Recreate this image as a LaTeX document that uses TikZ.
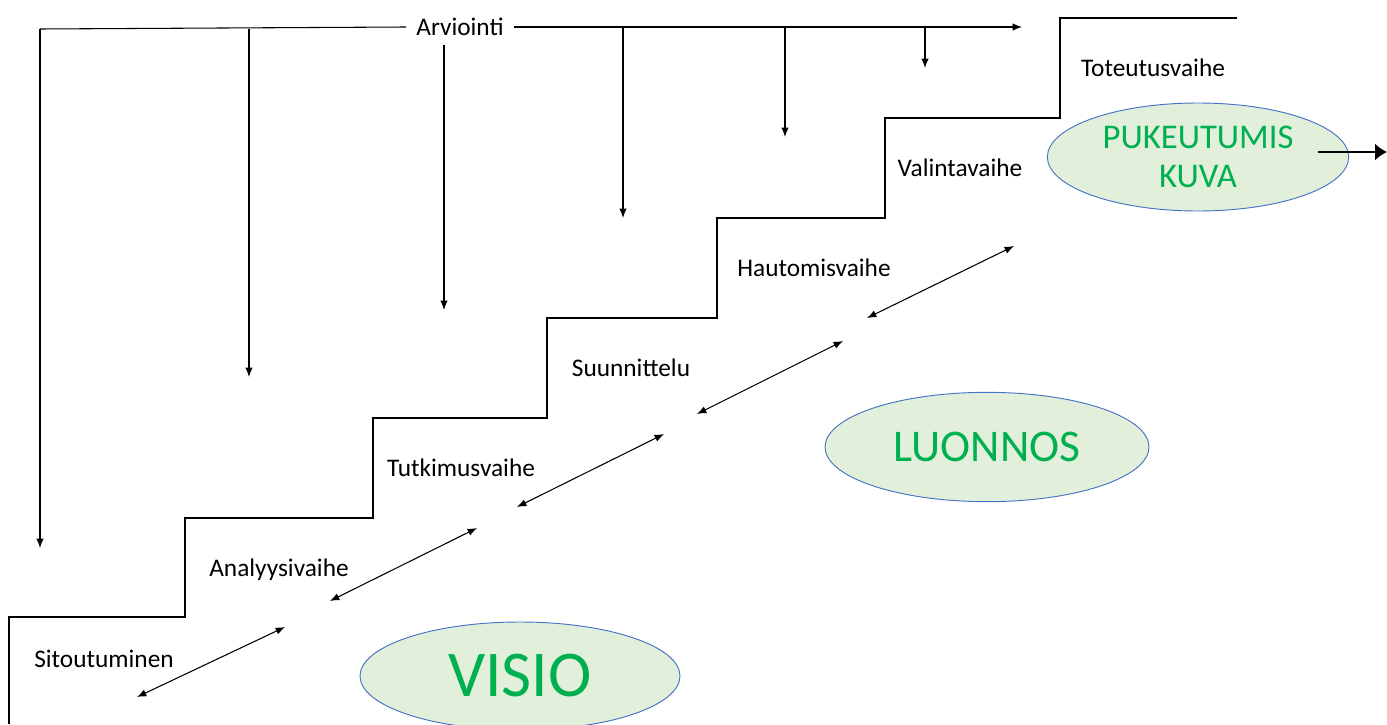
\documentclass[tikz,border=0pt]{standalone}
\usepackage{fontspec}
\setmainfont{Carlito}
\usetikzlibrary{arrows.meta}
\usetikzlibrary{shapes.geometric}

\definecolor{ovalfill}{RGB}{226,239,218}
\definecolor{ovalline}{RGB}{68,114,196}
\definecolor{ovaltext}{RGB}{0,176,80}

\tikzset{
    stage/.style={font=\fontsize{19}{21}\selectfont, inner sep=0pt, text height=12.2pt, text depth=0pt},
    oval/.style={ellipse, draw=ovalline, fill=ovalfill, line width=0.7pt, text=ovaltext, align=center, inner sep=0pt},
    stairs/.style={line width=0.95pt},
    downarrow/.style={line width=0.8pt, -{Latex[length=7pt,width=5.5pt]}},
    twoarrow/.style={line width=0.8pt, {Latex[length=7pt,width=5.5pt]}-{Latex[length=7pt,width=5.5pt]}},
}

\begin{document}
\begin{tikzpicture}[x=0.75pt,y=-0.75pt]
    \useasboundingbox (0,0) rectangle (1387,724);

    \draw[stairs] (9,724) -- (9,617) -- (185,617) -- (185,518) -- (373,518) -- (373,418) -- (547,418)
        -- (547,318) -- (717,318) -- (717,218) -- (885,218) -- (885,118) -- (1060,118) -- (1060,18) -- (1237,18);

    \node[stage] (sitout) at (104,659) {Sitoutuminen};
    \node[stage] (analyy) at (279,568) {Analyysivaihe};
    \node[stage] (tutkim) at (461,468) {Tutkimusvaihe};
    \node[stage] (suunni) at (631,368) {Suunnittelu};
    \node[stage] (hautom) at (814,268) {Hautomisvaihe};
    \node[stage] (valint) at (960,168) {Valintavaihe};
    \node[stage] (toteut) at (1153,68) {Toteutusvaihe};

    \node[stage, inner xsep=7.5pt] (arvio) at (460,27) {Arviointi};
    \coordinate (arvleft) at (40,29);
    \coordinate (arvright) at (1022,27);
    \draw[line width=0.8pt] (arvleft) -- (arvio.west);
    \draw[downarrow] (arvio.east) -- (arvright);

    \coordinate (e0) at (40,548);
    \coordinate (e1) at (249,377);
    \coordinate (e2) at (444,310);
    \coordinate (e3) at (623,218);
    \coordinate (e4) at (785,137);
    \coordinate (e5) at (925,68);
    \draw[downarrow] (arvleft) -- (e0);
    \draw[downarrow] (249,29) -- (e1);
    \draw[downarrow] (444,45) -- (e2);
    \draw[downarrow] (623,27) -- (e3);
    \draw[downarrow] (785,27) -- (e4);
    \draw[downarrow] (925,27) -- (e5);

    \coordinate (a1) at (137,697);  \coordinate (b1) at (285,627);
    \coordinate (a2) at (330,601);  \coordinate (b2) at (477,528);
    \coordinate (a3) at (517,507);  \coordinate (b3) at (664,434);
    \coordinate (a4) at (697,414);  \coordinate (b4) at (843,341);
    \coordinate (a5) at (867,318);  \coordinate (b5) at (1014,246);
    \draw[twoarrow] (a1) -- (b1);
    \draw[twoarrow] (a2) -- (b2);
    \draw[twoarrow] (a3) -- (b3);
    \draw[twoarrow] (a4) -- (b4);
    \draw[twoarrow] (a5) -- (b5);

    \node[oval, minimum width=226pt, minimum height=81pt, font=\fontsize{26}{29.5}\selectfont] (pukeut) at (1198,157) {PUKEUTUMIS\\KUVA};
    \node[oval, minimum width=243pt, minimum height=82pt, font=\fontsize{34}{36}\selectfont] (luonnos) at (987,447) {LUONNOS};
    \node[oval, minimum width=240pt, minimum height=81pt, font=\fontsize{49}{50}\selectfont] (visio) at (520,676) {VISIO};

    \coordinate (outpoint) at (1387,152);
    \draw[line width=1.6pt, -{Latex[length=9pt,width=13pt]}] (1318,152) -- (outpoint);
\end{tikzpicture}
\end{document}
